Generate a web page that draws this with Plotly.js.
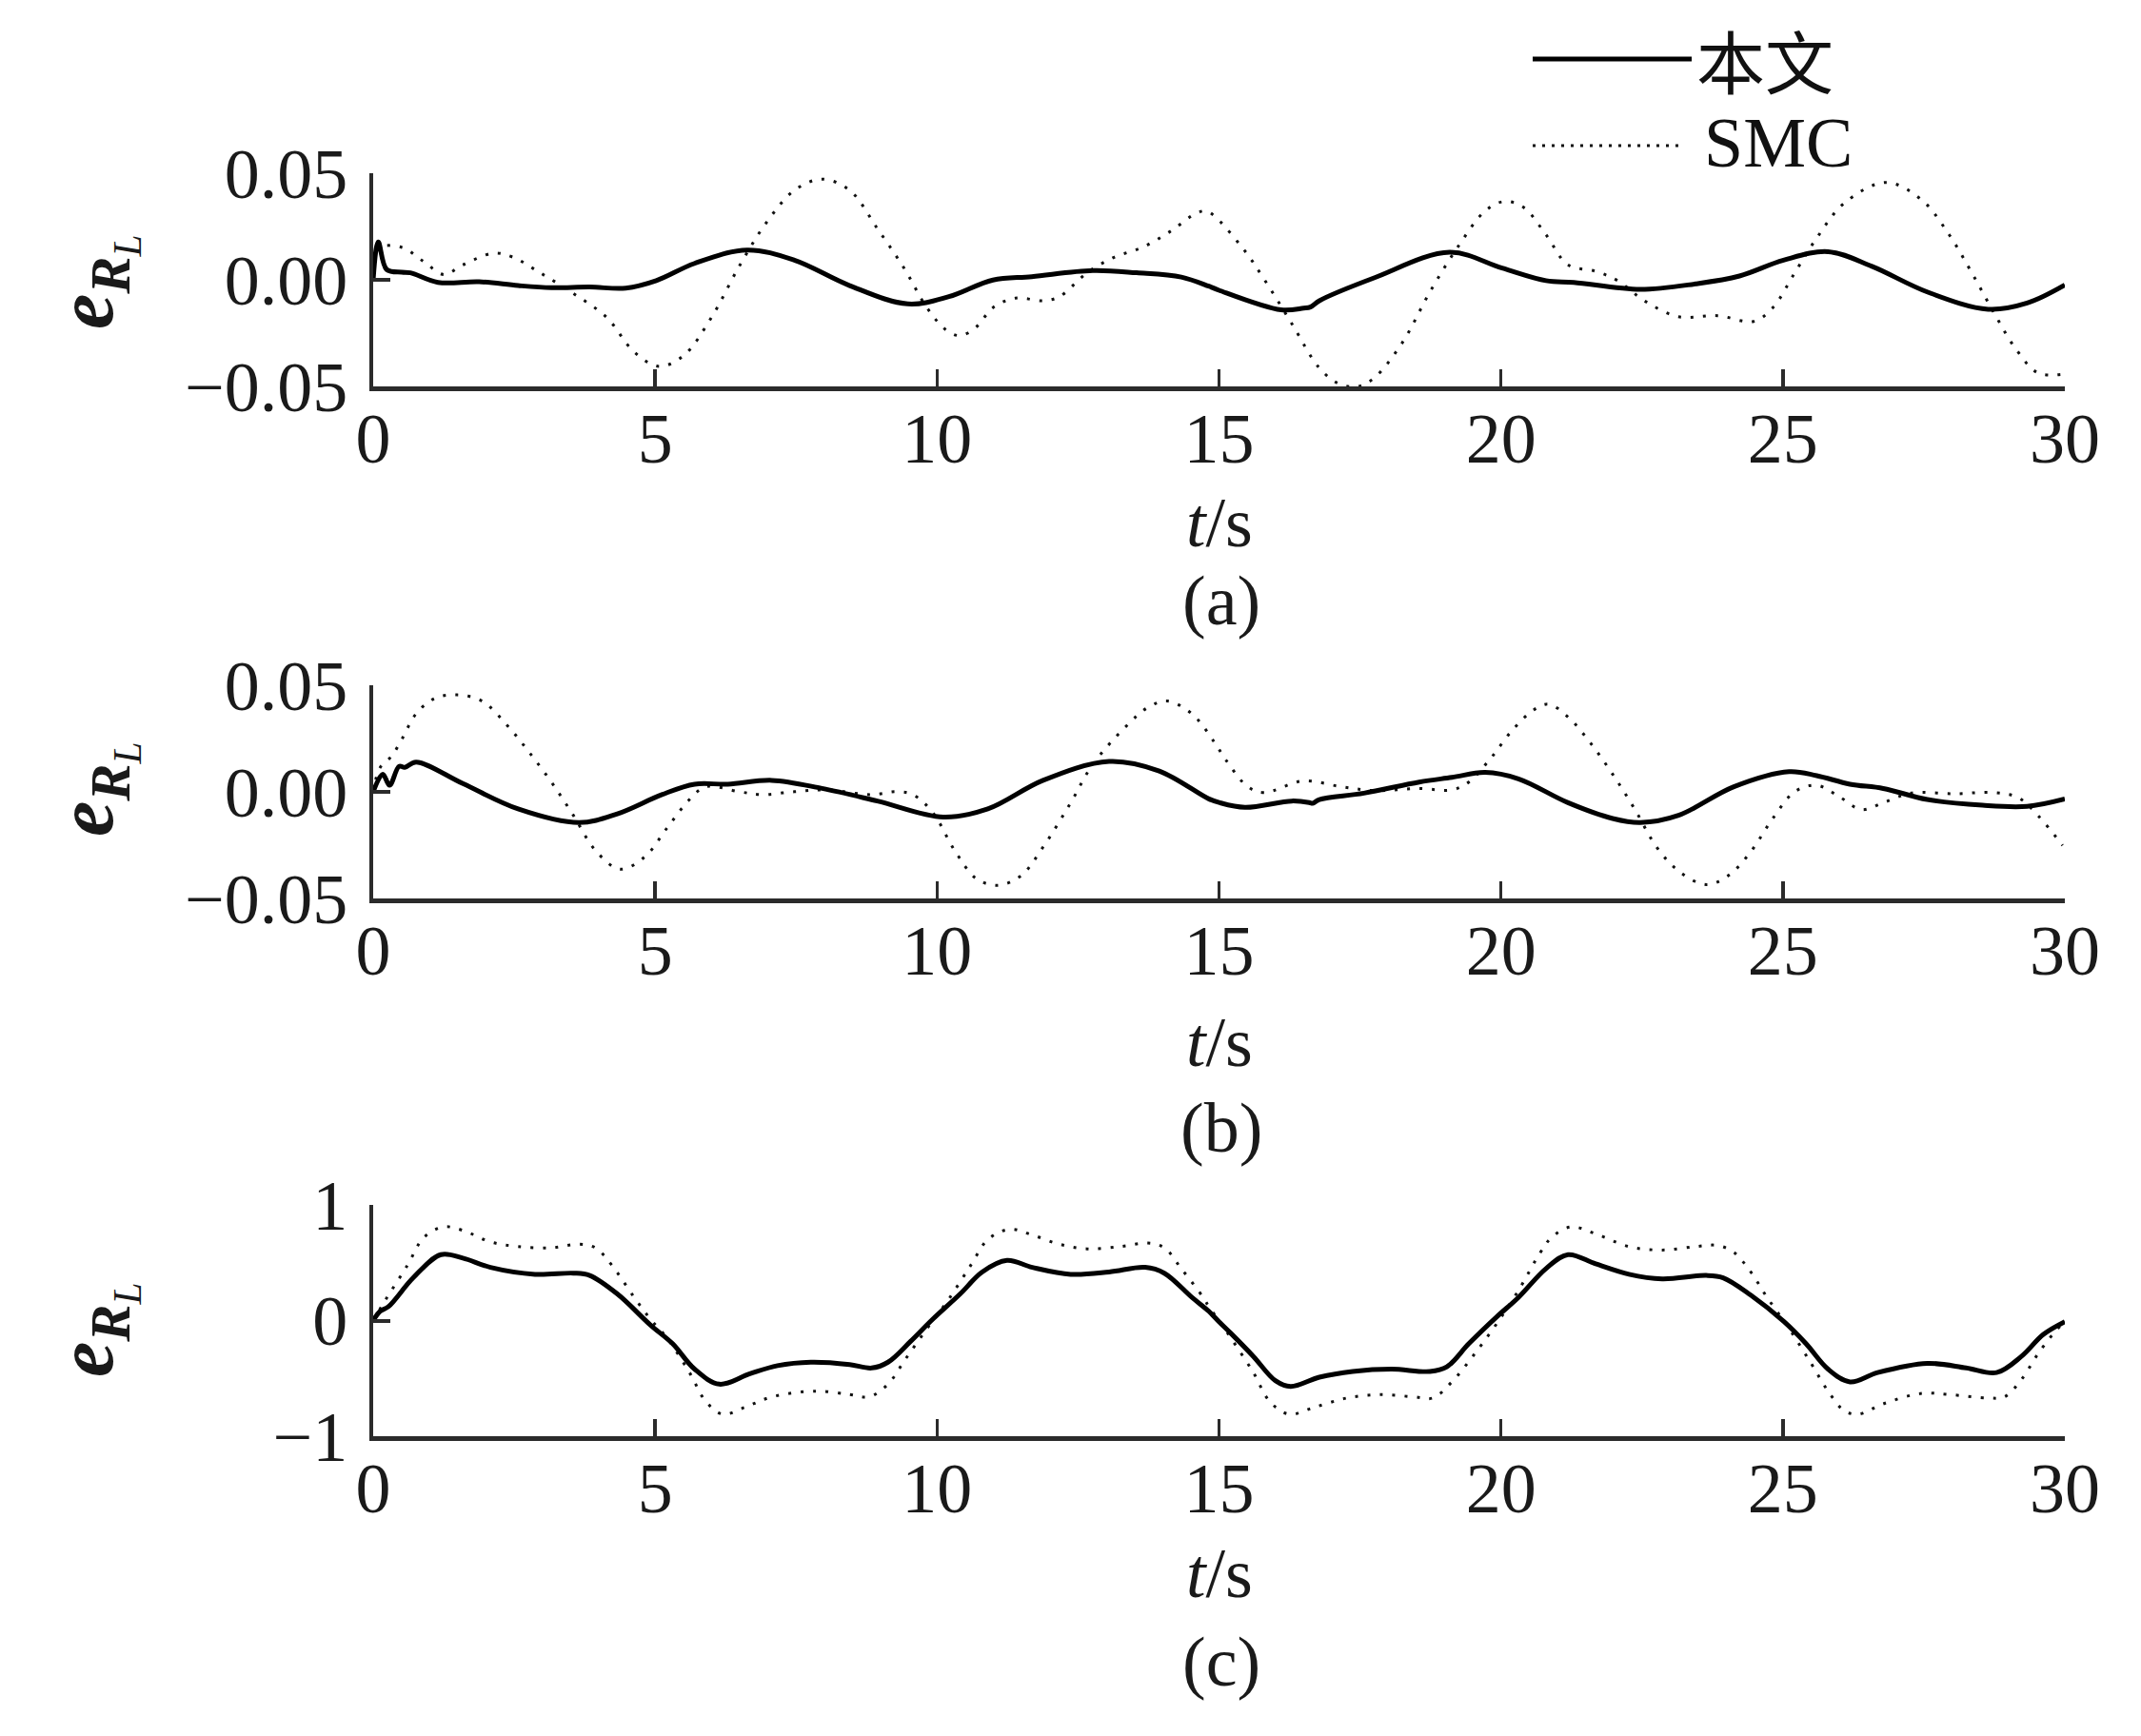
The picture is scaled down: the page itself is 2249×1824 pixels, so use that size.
<!DOCTYPE html>
<html>
<head>
<meta charset="utf-8">
<script src="https://cdn.plot.ly/plotly-3.0.1.min.js"></script>
<style>html,body{margin:0;padding:0;background:#fff;}</style>
</head>
<body>
<div id="chart" style="width:2249px;height:1824px;"></div>
<script>
// ---------------- DATA ----------------
const seriesNames = ['本文', 'SMC'];
const panelLabels = ['(a)', '(b)', '(c)'];
const xTickVals = [0, 5, 10, 15, 20, 25, 30];
const xTickText = ['0', '5', '10', '15', '20', '25', '30'];
const yTickValsAB = [-0.05, 0, 0.05];
const yTickTextAB = ['\u22120.05', '0.00', '0.05'];
const yTickValsC = [-1, 0, 1];
const yTickTextC = ['\u22121', '0', '1'];

// Panel (a)
const aTimeOurs = [0, 0.09, 0.24, 0.51, 0.66, 1.15, 1.88, 2.57, 3.16, 3.84, 4.48, 5.02, 5.7, 6.63, 7.47, 8.45, 9.48, 10.21, 10.99, 11.68, 12.76, 13.54, 14.33, 14.82, 15.0, 16.10, 16.50, 16.62, 16.78, 17.76, 19.09, 20.02, 20.8, 21.29, 22.47, 23.45, 24.23, 25.01, 25.8, 26.58, 27.56, 28.64, 29.33, 30.0];
const aOurs = [0, 0.0177, 0.0048, 0.0036, 0.0033, -0.0012, -0.0009, -0.0027, -0.0037, -0.0034, -0.0039, -0.0004, 0.0077, 0.0140, 0.0092, -0.0027, -0.0113, -0.0079, -0.0001, 0.0015, 0.0043, 0.0033, 0.0013, -0.0030, -0.0049, -0.0141, -0.0133, -0.0128, -0.0098, 0.0010, 0.0129, 0.0055, -0.0004, -0.0012, -0.0045, -0.0019, 0.0018, 0.0092, 0.0132, 0.0063, -0.0057, -0.0138, -0.0109, -0.0024];
const aTimeSmc = [0, 0.12, 0.51, 0.9, 1.25, 1.59, 2.13, 2.47, 2.96, 3.55, 4.14, 4.63, 5.07, 5.51, 6.0, 6.49, 6.98, 7.47, 7.96, 8.45, 8.94, 9.43, 9.82, 10.16, 10.41, 10.7, 10.99, 11.39, 11.88, 12.17, 12.66, 13.15, 13.64, 14.13, 14.62, 14.8, 15.41, 15.8, 16.29, 16.78, 17.13, 17.47, 17.76, 18.25, 18.74, 19.23, 19.72, 20.07, 20.41, 20.8, 21.19, 21.68, 22.07, 22.56, 23.15, 23.84, 24.48, 24.82, 25.21, 25.6, 26.09, 26.83, 27.46, 27.95, 28.35, 28.74, 29.13, 29.52, 29.96];
const aSmc = [0.008, 0.0152, 0.0152, 0.0085, 0.0025, 0.0070, 0.0125, 0.0107, 0.0033, -0.0064, -0.0176, -0.0339, -0.0406, -0.0354, -0.0176, 0.0063, 0.0271, 0.0420, 0.0472, 0.0420, 0.0241, 0.0048, -0.0131, -0.0235, -0.0262, -0.0220, -0.0131, -0.0086, -0.0098, -0.0079, 0.0033, 0.0107, 0.0152, 0.0226, 0.0315, 0.0320, 0.0152, 0.0003, -0.0205, -0.0414, -0.0488, -0.0500, -0.0458, -0.0295, -0.0057, 0.0152, 0.0323, 0.0368, 0.0338, 0.0211, 0.0070, 0.0040, -0.0004, -0.0101, -0.0173, -0.0168, -0.0195, -0.0131, 0.0033, 0.0196, 0.0360, 0.0457, 0.0375, 0.0211, 0.0033, -0.0153, -0.0324, -0.0436, -0.0443];

// Panel (b)
const bTimeOurs = [0, 0.17, 0.29, 0.46, 0.56, 0.76, 1.59, 2.57, 3.65, 4.33, 5.12, 5.7, 6.29, 7.07, 7.96, 8.94, 10.11, 10.9, 11.88, 13.05, 13.94, 14.82, 15.0, 15.46, 16.29, 16.60, 16.66, 16.78, 17.57, 18.55, 19.13, 19.72, 20.31, 21.19, 21.98, 22.47, 23.15, 24.13, 25.11, 25.6, 26.19, 26.78, 27.56, 28.54, 29.33, 30.0];
const bOurs = [0, 0.0083, 0.0031, 0.0120, 0.0115, 0.0140, 0.0039, -0.0080, -0.0144, -0.0103, -0.0013, 0.0036, 0.0036, 0.0054, 0.0016, -0.0043, -0.0118, -0.0080, 0.0054, 0.0143, 0.0098, -0.0033, -0.0050, -0.0073, -0.0043, -0.0050, -0.0054, -0.0036, -0.0006, 0.0046, 0.0068, 0.0091, 0.0061, -0.0051, -0.0125, -0.0144, -0.0110, 0.0024, 0.0095, 0.0076, 0.0036, 0.0016, -0.0036, -0.0063, -0.0068, -0.0033];
const bTimeSmc = [0, 0.12, 0.32, 0.51, 0.76, 1.1, 1.49, 1.93, 2.37, 2.76, 3.16, 3.55, 3.94, 4.38, 4.82, 5.21, 5.61, 5.9, 6.49, 6.88, 7.47, 8.05, 8.84, 9.27, 9.57, 9.92, 10.31, 10.7, 11.09, 11.49, 11.88, 12.37, 12.76, 13.35, 13.74, 14.08, 14.52, 14.92, 15.12, 15.51, 15.8, 16.49, 17.17, 17.76, 18.55, 19.13, 19.43, 19.82, 20.21, 20.6, 20.85, 21.19, 21.58, 21.98, 22.37, 22.76, 23.15, 23.64, 24.03, 24.43, 24.82, 25.21, 25.6, 25.99, 26.39, 26.78, 27.27, 28.05, 28.74, 29.18, 29.52, 29.96];
const bSmc = [0, 0.0113, 0.0165, 0.0247, 0.0366, 0.0440, 0.0455, 0.0426, 0.0314, 0.0188, 0.0046, -0.0110, -0.0274, -0.0363, -0.0304, -0.0170, -0.0036, 0.0024, 0.0001, -0.0013, 0.0001, 0.0009, -0.0013, 0.0001, -0.0013, -0.0095, -0.0274, -0.0408, -0.0438, -0.0393, -0.0259, -0.0051, 0.0128, 0.0307, 0.0396, 0.0426, 0.0366, 0.0232, 0.0150, 0.0024, -0.0003, 0.0051, 0.0024, 0.0006, 0.0016, 0.0009, 0.0046, 0.0158, 0.0292, 0.0388, 0.0411, 0.0351, 0.0232, 0.0083, -0.0080, -0.0259, -0.0371, -0.0435, -0.0393, -0.0281, -0.0125, 0.0001, 0.0031, -0.0021, -0.0083, -0.0051, -0.0006, -0.0009, -0.0003, -0.0028, -0.0110, -0.0251];

// Panel (c)
const cTimeOurs = [0, 0.12, 0.27, 0.71, 1.2, 1.59, 2.08, 2.87, 3.55, 3.84, 4.33, 4.92, 5.31, 5.7, 6.14, 6.68, 7.17, 7.76, 8.45, 8.84, 9.13, 9.53, 9.92, 10.41, 10.8, 11.24, 11.69, 12.37, 13.05, 13.69, 14.03, 14.52, 14.82, 15.0, 15.21, 15.61, 16.0, 16.27, 16.78, 17.37, 18.06, 18.74, 19.04, 19.43, 19.92, 20.31, 20.8, 21.19, 21.68, 22.27, 22.86, 23.64, 23.94, 24.43, 25.02, 25.41, 25.8, 26.19, 26.68, 27.56, 28.25, 28.79, 29.23, 29.62, 30.0];
const cOurs = [0, 0.08, 0.12, 0.37, 0.57, 0.54, 0.46, 0.40, 0.41, 0.39, 0.23, -0.04, -0.20, -0.42, -0.55, -0.46, -0.39, -0.36, -0.38, -0.41, -0.36, -0.18, 0.01, 0.23, 0.42, 0.52, 0.46, 0.40, 0.42, 0.46, 0.41, 0.20, 0.08, -0.01, -0.11, -0.31, -0.52, -0.57, -0.49, -0.44, -0.42, -0.44, -0.40, -0.20, 0.03, 0.20, 0.45, 0.57, 0.49, 0.40, 0.36, 0.39, 0.37, 0.22, -0.01, -0.20, -0.42, -0.53, -0.45, -0.37, -0.41, -0.45, -0.31, -0.12, -0.01];
const cTimeSmc = [0, 0.22, 0.61, 0.9, 1.25, 1.59, 2.08, 2.57, 3.16, 3.64, 3.94, 4.23, 4.63, 4.92, 5.21, 5.61, 5.9, 6.2, 6.59, 7.07, 7.86, 8.45, 8.79, 9.13, 9.43, 9.82, 10.2, 10.6, 10.9, 11.29, 11.69, 12.17, 12.66, 13.25, 13.74, 14.03, 14.33, 14.72, 14.82, 15.0, 15.21, 15.61, 15.9, 16.24, 16.69, 17.27, 17.86, 18.45, 18.79, 19.13, 19.53, 19.92, 20.31, 20.7, 20.9, 21.24, 21.68, 22.27, 22.86, 23.45, 23.84, 24.13, 24.43, 24.72, 25.11, 25.5, 25.8, 26.09, 26.34, 26.78, 27.46, 27.95, 28.64, 28.93, 29.23, 29.52, 29.82, 30.0];
const cSmc = [0, 0.18, 0.48, 0.72, 0.81, 0.78, 0.68, 0.64, 0.63, 0.66, 0.63, 0.48, 0.20, 0.01, -0.15, -0.45, -0.70, -0.81, -0.75, -0.66, -0.61, -0.64, -0.66, -0.55, -0.34, -0.07, 0.18, 0.48, 0.70, 0.79, 0.74, 0.66, 0.62, 0.64, 0.67, 0.63, 0.45, 0.20, 0.12, 0.00, -0.15, -0.45, -0.70, -0.81, -0.75, -0.67, -0.64, -0.66, -0.67, -0.53, -0.29, -0.03, 0.26, 0.59, 0.72, 0.81, 0.75, 0.64, 0.61, 0.64, 0.65, 0.59, 0.42, 0.20, -0.07, -0.37, -0.61, -0.78, -0.81, -0.72, -0.63, -0.64, -0.67, -0.66, -0.51, -0.29, -0.10, -0.01];

// ---------------- LAYOUT HELPERS ----------------
const W = 2249, H = 1824;
const px = v => v / W;
const py = v => 1 - v / H;
const SERIF = '"Liberation Serif", "Times New Roman", serif';
const AX = '#2b2b2b';
const xDom = [px(392), px(2169)];
const panels = [
  {top: 182, bot: 406, yt: yTickValsAB, ytt: yTickTextAB, rng: [-0.05, 0.05]},
  {top: 720, bot: 944, yt: yTickValsAB, ytt: yTickTextAB, rng: [-0.05, 0.05]},
  {top: 1266, bot: 1509, yt: yTickValsC, ytt: yTickTextC, rng: [-1, 1]}
];
const ours = [[aTimeOurs, aOurs], [bTimeOurs, bOurs], [cTimeOurs, cOurs]];
const smc = [[aTimeSmc, aSmc], [bTimeSmc, bSmc], [cTimeSmc, cSmc]];

const traces = [];
const layout = {
  width: W, height: H,
  margin: {l: 0, r: 0, t: 0, b: 0},
  paper_bgcolor: '#fff', plot_bgcolor: '#fff',
  showlegend: false,
  font: {family: SERIF, color: '#1a1a1a'},
  annotations: [], shapes: []
};

panels.forEach((p, i) => {
  const s = i === 0 ? '' : String(i + 1);
  traces.push({
    x: smc[i][0], y: smc[i][1], xaxis: 'x' + s, yaxis: 'y' + s,
    type: 'scatter', mode: 'lines', name: seriesNames[1],
    line: {color: '#111', width: 3, dash: '3px,10px', shape: 'spline', smoothing: 1}
  });
  traces.push({
    x: ours[i][0], y: ours[i][1], xaxis: 'x' + s, yaxis: 'y' + s,
    type: 'scatter', mode: 'lines', name: seriesNames[0],
    line: {color: '#000', width: 5, shape: 'spline', smoothing: 1}
  });
  layout['xaxis' + s] = {
    domain: xDom, anchor: 'y' + s, range: [0, 30],
    tickmode: 'array', tickvals: xTickVals, ticktext: xTickText,
    ticks: 'inside', ticklen: 18, tickwidth: 3.5, tickcolor: AX,
    showline: true, linewidth: 5, linecolor: AX,
    showgrid: false, zeroline: false, fixedrange: true,
    tickfont: {family: SERIF, size: 74, color: '#1a1a1a'},
    ticklabelstandoff: -14
  };
  layout['yaxis' + s] = {
    domain: [py(p.bot), py(p.top)], anchor: 'x' + s, range: p.rng,
    tickmode: 'array', tickvals: p.yt, ticktext: p.ytt,
    ticks: 'inside', ticklen: 18, tickwidth: 4, tickcolor: AX,
    showline: true, linewidth: 4, linecolor: AX,
    showgrid: false, zeroline: false, fixedrange: true,
    tickfont: {family: SERIF, size: 74, color: '#1a1a1a'},
    ticklabelstandoff: 8
  };
});

// axis titles and panel captions
const yTitleY = [297, 830, 1398];
const tTitleY = [549, 1095, 1653];
const capY = [631, 1185, 1746];
for (let i = 0; i < 3; i++) {
  layout.annotations.push({
    xref: 'paper', yref: 'paper', x: px(100), y: py(yTitleY[i]),
    xanchor: 'center', yanchor: 'middle', showarrow: false, textangle: -90,
    text: '<b><i>e</i></b><sub><b><i>R</i></b><sub><i>L</i></sub></sub>',
    font: {family: SERIF, size: 84, color: '#1a1a1a'}
  });
  layout.annotations.push({
    xref: 'paper', yref: 'paper', x: px(1281), y: py(tTitleY[i]),
    xanchor: 'center', yanchor: 'middle', showarrow: false,
    text: '<i>t</i>/s', font: {family: SERIF, size: 74, color: '#1a1a1a'}
  });
  layout.annotations.push({
    xref: 'paper', yref: 'paper', x: px(1283), y: py(capY[i]),
    xanchor: 'center', yanchor: 'middle', showarrow: false,
    text: panelLabels[i], font: {family: SERIF, size: 74, color: '#1a1a1a'}
  });
}

// legend (drawn manually to match long line samples)
layout.shapes.push({type: 'line', xref: 'paper', yref: 'paper',
  x0: px(1610), x1: px(1777), y0: py(62), y1: py(62), line: {color: '#000', width: 5}});
layout.shapes.push({type: 'line', xref: 'paper', yref: 'paper',
  x0: px(1610), x1: px(1768), y0: py(153), y1: py(153), line: {color: '#111', width: 3, dash: '3px,7px'}});
layout.annotations.push({xref: 'paper', yref: 'paper', x: px(1780), y: py(62),
  xanchor: 'left', yanchor: 'middle', showarrow: false, text: seriesNames[0],
  font: {family: '"Noto Sans CJK SC", sans-serif', size: 72, color: '#111'}});
layout.annotations.push({xref: 'paper', yref: 'paper', x: px(1788), y: py(150),
  xanchor: 'left', yanchor: 'middle', showarrow: false, text: seriesNames[1],
  font: {family: SERIF, size: 74, color: '#111'}});

Plotly.newPlot('chart', traces, layout, {staticPlot: true, displayModeBar: false});
</script>
</body>
</html>
